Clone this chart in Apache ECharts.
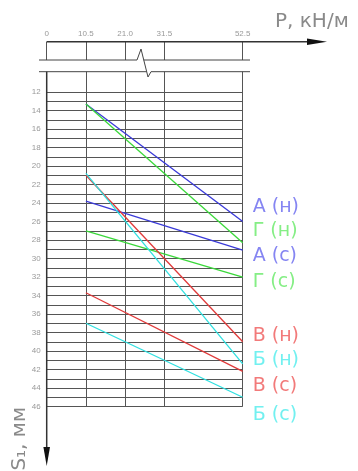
<!DOCTYPE html>
<html><head><meta charset="utf-8">
<script src="https://cdn.jsdelivr.net/npm/echarts@6/dist/echarts.min.js"></script>
<style>html,body{margin:0;padding:0;background:#fff}#c{width:358px;height:471px}</style>
</head><body><div id="c"></div>
<script>
// ---- data ----
const seriesNames = ['А (н)', 'Г (н)', 'А (с)', 'Г (с)', 'В (н)', 'Б (н)', 'В (с)', 'Б (с)'];
const loadsP = [10.5, 52.5];
const startS = [13.3, 13.3, 23.8, 27.0, 21.0, 20.8, 33.7, 37.0];
const endS   = [26.0, 28.3, 29.1, 32.0, 39.0, 41.4, 42.2, 45.0];
const xTicks = [0, 10.5, 21.0, 31.5, 52.5];
const xTickLabels = ['0', '10.5', '21.0', '31.5', '52.5'];
const yTickLabels = [12, 14, 16, 18, 20, 22, 24, 26, 28, 30, 32, 34, 36, 38, 40, 42, 44, 46];
const yGridFrom = 12, yGridTo = 46, yAxisTop = 9.8;
const xTitle = 'P, кН/м';
const yTitle = 'S₁, мм';

// ---- styles ----
const lineColors = ['#3a3ad8', '#3ad83a', '#3a3ad8', '#3ad83a', '#e03a3a', '#2fe0e0', '#e03a3a', '#2fe0e0'];
const textColors = ['#8585f2', '#85ee85', '#8585f2', '#85ee85', '#f27a7a', '#72f0f0', '#f27a7a', '#72f0f0'];
const labelDy = [-14, -12, 6, 5, -6, -4, 15, 18];
const gridColor = '#555';

const yGridVals = [];
for (let v = yGridFrom; v <= yGridTo; v++) yGridVals.push(v);

const L = 46.7, RX = 242.7, T0 = 41.7, B0 = 60, T1 = 71.7, B1 = 406.5;

const chart = echarts.init(document.getElementById('c'));
chart.setOption({
  animation: false,
  grid: [
    { left: L, top: T0, width: RX - L, height: B0 - T0 },
    { left: L, top: T1, width: RX - L, height: B1 - T1 }
  ],
  xAxis: [
    { gridIndex: 0, type: 'value', position: 'top', min: 0, max: 52.5,
      axisLine: { show: false }, axisTick: { show: false, customValues: xTicks },
      axisLabel: { customValues: xTicks, formatter: v => xTickLabels[xTicks.indexOf(v)],
        fontSize: 8, color: '#999', margin: 4, fontFamily: 'Liberation Sans' },
      splitLine: { show: true, lineStyle: { color: gridColor, width: 1 } } },
    { gridIndex: 1, type: 'value', min: 0, max: 52.5,
      axisLine: { show: false }, axisTick: { show: false, customValues: xTicks },
      axisLabel: { show: false },
      splitLine: { show: true, lineStyle: { color: gridColor, width: 1 } } }
  ],
  yAxis: [
    { gridIndex: 0, type: 'value', min: 0, max: 1, show: false },
    { gridIndex: 1, type: 'value', inverse: true, min: yAxisTop, max: yGridTo,
      axisLine: { show: false }, axisTick: { show: false, customValues: yGridVals },
      axisLabel: { customValues: yTickLabels, fontSize: 8, color: '#999', margin: 6, fontFamily: 'Liberation Sans' },
      splitLine: { show: true, lineStyle: { color: gridColor, width: 1 } } }
  ],
  series: seriesNames.map((n, i) => ({
    type: 'line', name: n, xAxisIndex: 1, yAxisIndex: 1, symbol: 'none', silent: true,
    data: [[loadsP[0], startS[i]], [loadsP[1], endS[i]]],
    lineStyle: { color: lineColors[i], width: 1.3 }
  }))
});

const g = [];
seriesNames.forEach((n, i) => {
  const p = chart.convertToPixel({ gridIndex: 1 }, [loadsP[1], endS[i]]);
  g.push({ type: 'text', x: p[0] + 10, y: p[1] + labelDy[i], silent: true,
    style: { text: n, fill: textColors[i], fontSize: 19, fontFamily: 'DejaVu Sans', align: 'left', verticalAlign: 'middle' } });
});
const ln = (x1, y1, x2, y2, w, c) => ({ type: 'line', silent: true, shape: { x1, y1, x2, y2 }, style: { stroke: c || '#444', lineWidth: w || 1 } });
// top axis with arrow
g.push(ln(L, T0, 310, T0, 1.5, '#333'));
g.push({ type: 'polygon', silent: true, shape: { points: [[307, T0 - 3.3], [327, T0], [307, T0 + 3.3]] }, style: { fill: '#111' } });
// left axis with arrow
g.push(ln(L, T1, L, 450, 1.5, '#333'));
g.push({ type: 'polygon', silent: true, shape: { points: [[L - 3.3, 447], [L, 466], [L + 3.3, 447]] }, style: { fill: '#111' } });
// break lines
g.push(ln(39, B0, 137, B0));
g.push(ln(143.7, B0, 250, B0));
g.push(ln(39, T1, 146.7, T1));
g.push(ln(151, T1, 250, T1));
g.push({ type: 'polyline', silent: true, shape: { points: [[137, B0], [141, 49], [148, 77], [151, T1]] }, style: { stroke: '#444', lineWidth: 1, fill: null } });
// titles
g.push({ type: 'text', x: 275, y: 22, silent: true, style: { text: xTitle, fill: '#8a8a8a', fontSize: 20, fontFamily: 'DejaVu Sans', align: 'left', verticalAlign: 'middle' } });
g.push({ type: 'text', x: 20, y: 407, rotation: Math.PI / 2, silent: true, style: { text: yTitle, fill: '#8a8a8a', fontSize: 20, fontFamily: 'DejaVu Sans', align: 'right', verticalAlign: 'middle' } });
chart.setOption({ graphic: g });
</script></body></html>
